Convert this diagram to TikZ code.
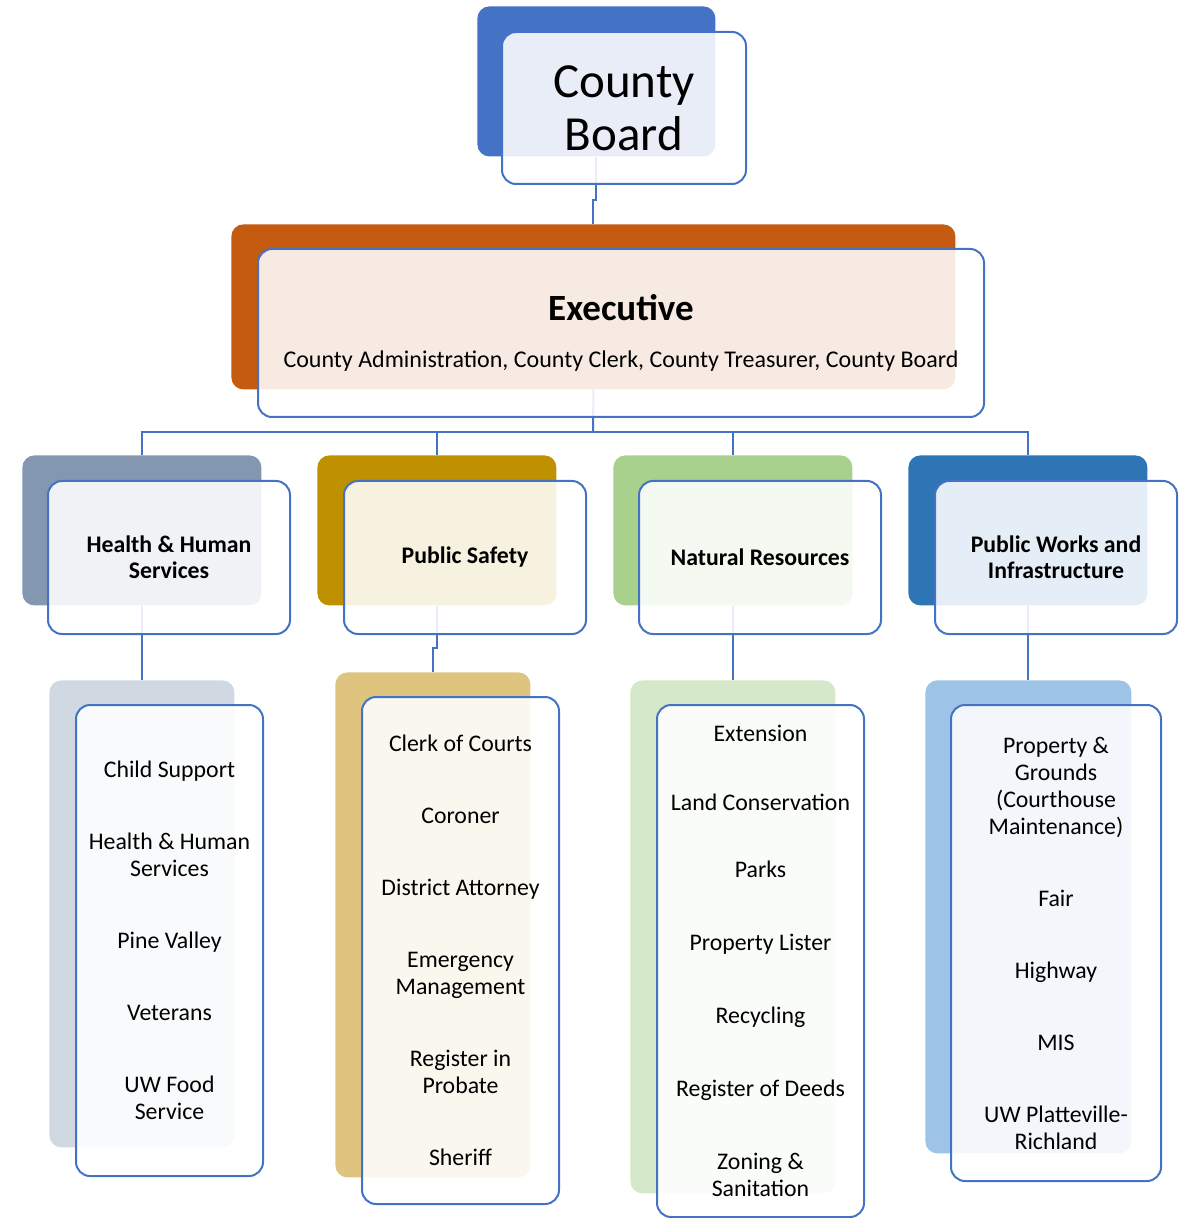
\documentclass[tikz,border=0pt]{standalone}
\usepackage{fontspec}
\setmainfont{Carlito}
\usetikzlibrary{backgrounds}
\definecolor{frameblue}{HTML}{4472C4}
\definecolor{cbback}{HTML}{4472C4}
\definecolor{exback}{HTML}{C55A11}
\definecolor{hhsback}{HTML}{8497B0}
\definecolor{hhslist}{HTML}{D0D8E2}
\definecolor{psback}{HTML}{BF9000}
\definecolor{pslist}{HTML}{DEC47F}
\definecolor{nrback}{HTML}{A9D18E}
\definecolor{nrlist}{HTML}{D5E8C9}
\definecolor{pwback}{HTML}{2E75B6}
\definecolor{pwlist}{HTML}{9DC3E6}
\newcommand\itemgap{\\[22.5pt]}
\begin{document}
\begin{tikzpicture}[x=0.5pt,y=-0.5pt,
  sz/.style 2 args={minimum width=#1*0.5pt, minimum height=#2*0.5pt},
  back/.style={rectangle, rounded corners=6pt, anchor=north west, inner sep=0pt, draw=none},
  front/.style={rectangle, rounded corners=7pt, anchor=north west, inner sep=0pt,
    draw=frameblue, line width=1pt, fill=white, fill opacity=0.88, text opacity=1, align=center},
  lvtwo/.style={front, font=\fontsize{11.9}{13}\selectfont\bfseries},
  lvthree/.style={front, font=\fontsize{11.9}{13.5}\selectfont},
  link/.style={draw=frameblue, line width=1pt}]
\useasboundingbox (0,0) rectangle (1179,1218);

% County Board
\node[back, fill=cbback, sz={238}{150}] (cbb) at (477,6) {};
\node[front, sz={244}{152}, font=\fontsize{24.5}{26.5}\selectfont] (cbf) at (501,31) {County\\Board};

% Executive
\node[back, fill=exback, sz={724}{165}] (exb) at (231,224) {};
\node[front, sz={726}{168}, font=\fontsize{12}{13}\selectfont] (exf) at (257,248)
  {{\fontsize{18.5}{22}\selectfont\bfseries Executive}\\[10.5pt]County Administration, County Clerk, County Treasurer, County Board};

% Level 2
\node[back, fill=hhsback, sz={239}{150}] (hhsb) at (22,455) {};
\node[lvtwo, sz={242}{153}] (hhsf) at (47,480) {Health \& Human\\Services};
\node[back, fill=psback, sz={239}{150}] (psb) at (317,455) {};
\node[lvtwo, sz={242}{153}] (psf) at (343,480) {Public Safety};
\node[back, fill=nrback, sz={239}{150}] (nrb) at (613,455) {};
\node[lvtwo, sz={242}{153}] (nrf) at (638,480) {Natural Resources};
\node[back, fill=pwback, sz={239}{150}] (pwb) at (908,455) {};
\node[lvtwo, sz={242}{153}] (pwf) at (934,480) {Public Works and\\Infrastructure};

% Level 3
\node[back, fill=hhslist, sz={185}{467}] (hhsl) at (49,680) {};
\node[lvthree, sz={187}{471}] (hhsm) at (75,704)
  {Child Support\itemgap Health \& Human\\Services\itemgap Pine Valley\itemgap Veterans\itemgap UW Food\\Service};
\node[back, fill=pslist, sz={195}{505}] (psl) at (335,672) {};
\node[lvthree, sz={197}{507}] (psm) at (361,696)
  {Clerk of Courts\itemgap Coroner\itemgap District Attorney\itemgap Emergency\\Management\itemgap Register in\\Probate\itemgap Sheriff};
\node[back, fill=nrlist, sz={205}{513}] (nrl) at (630,680) {};
\node[lvthree, sz={207}{512}] (nrm) at (656,704)
  {Extension\\[21pt]Land Conservation\\[20pt]Parks\\[23pt]Property Lister\\[23pt]Recycling\\[23pt]Register of Deeds\\[23pt]Zoning \&\\Sanitation};
\node[back, fill=pwlist, sz={206}{473}] (pwl) at (925,680) {};
\node[lvthree, sz={210}{476}] (pwm) at (950,704)
  {Property \&\\Grounds\\(Courthouse\\Maintenance)\itemgap Fair\itemgap Highway\itemgap MIS\itemgap UW Platteville-\\Richland};

% Connectors
\coordinate (jone) at (0,200);
\coordinate (bus) at (593,432);
\coordinate (jtwo) at (0,648);
\begin{pgfonlayer}{background}
\draw[link] (cbb.south) -- (cbb.south |- jone) -| (exb.north);
\draw[link] (exb.south) -- (bus);
\draw[link] (bus) -| (hhsb.north);
\draw[link] (bus) -| (psb.north);
\draw[link] (bus) -| (nrb.north);
\draw[link] (bus) -| (pwb.north);
\draw[link] (hhsb.south) -- (hhsl.north);
\draw[link] (psb.south) -- (psb.south |- jtwo) -| (psl.north);
\draw[link] (nrb.south) -- (nrl.north);
\draw[link] (pwb.south) -- (pwb.south |- pwl.north);
\end{pgfonlayer}
\end{tikzpicture}
\end{document}
